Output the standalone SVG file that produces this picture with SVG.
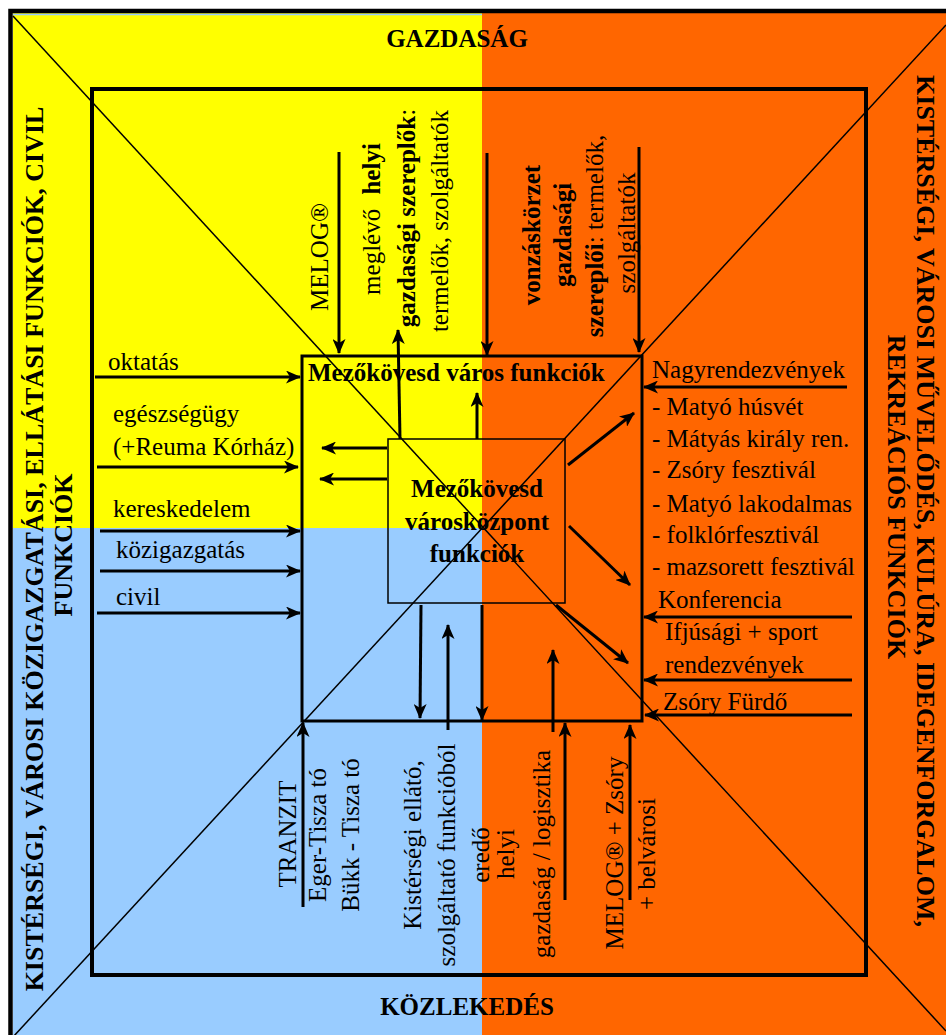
<svg xmlns="http://www.w3.org/2000/svg" width="946" height="1035" viewBox="0 0 946 1035">
<style>
.t{font-family:"Liberation Serif","Times New Roman",serif;font-size:25px;fill:#000}
.b{font-weight:bold}
.tt{font-family:"Liberation Serif","Times New Roman",serif;font-size:26px;font-weight:bold;fill:#000}
.a{stroke:#000;stroke-width:3;fill:none;marker-end:url(#ah)}
.d{stroke:#000;stroke-width:1.5;fill:none}
</style>
<defs>
<marker id="ah" markerUnits="userSpaceOnUse" markerWidth="15" markerHeight="13" refX="14" refY="6.5" orient="auto">
<path d="M0,0 L15,6.5 L0,13 L4,6.5 z" fill="#000"/>
</marker>
</defs>
<rect x="0" y="0" width="946" height="1035" fill="#fff"/>
<g id="background">
<rect x="13" y="13" width="469" height="515" fill="#ffff00"/>
<rect x="13" y="528" width="469" height="507" fill="#99ccff"/>
<rect x="482" y="13" width="464" height="1022" fill="#ff6600"/>
<line x1="13" y1="14.5" x2="482" y2="14.5" stroke="#99ccff" stroke-width="1.5"/>
<path d="M10.5,1035 V11 H946" stroke="#000" stroke-width="4.5" fill="none"/>
<line class="d" x1="13" y1="16" x2="946" y2="1031"/>
<line class="d" x1="946" y1="25" x2="13" y2="1037"/>
<rect x="92" y="89" width="774" height="886" fill="none" stroke="#000" stroke-width="4"/>
</g>
<g id="titles">
<text class="t b" x="457" y="47" text-anchor="middle">GAZDASÁG</text>
<text class="t b" x="467" y="1015" text-anchor="middle">KÖZLEKEDÉS</text>
<text class="tt" transform="translate(43,549) rotate(-90)" text-anchor="middle">KISTÉRSÉGI, VÁROSI KÖZIGAZGATÁSI, ELLÁTÁSI FUNKCIÓK, CIVIL</text>
<text class="tt" transform="translate(72,545) rotate(-90)" text-anchor="middle">FUNKCIÓK</text>
<text class="tt" transform="translate(917,501) rotate(90)" text-anchor="middle">KISTÉRSÉGI, VÁROSI MŰVELŐDÉS, KULÚRA, IDEGENFORGALOM,</text>
<text class="tt" transform="translate(888,497) rotate(90)" text-anchor="middle">REKREÁCIÓS FUNKCIÓK</text>
</g>
<g id="city-box">
<rect x="302" y="356" width="340" height="365" fill="none" stroke="#000" stroke-width="3"/>
<text class="t b" x="308" y="381">Mezőkövesd város funkciók</text>
</g>
<g id="center-box">
<rect x="388" y="439" width="177" height="164" fill="none" stroke="#000" stroke-width="1.5"/>
<text class="t b" x="477" y="497" text-anchor="middle">Mezőkövesd</text>
<text class="t b" x="477" y="530" text-anchor="middle">városközpont</text>
<text class="t b" x="477" y="562" text-anchor="middle">funkciók</text>
</g>
<g id="left-labels">
<text class="t" x="108" y="370">oktatás</text>
<text class="t" x="113" y="422">egészségügy</text>
<text class="t" x="113" y="455">(+Reuma Kórház)</text>
<text class="t" x="113" y="517">kereskedelem</text>
<text class="t" x="116" y="558">közigazgatás</text>
<text class="t" x="116" y="605">civil</text>
</g>
<g id="top-labels">
<text class="t" transform="translate(328,257) rotate(-90)" text-anchor="middle">MELOG®</text>
<text class="t" transform="translate(380,219) rotate(-90)" text-anchor="middle" word-spacing="8">meglévő <tspan class="b">helyi</tspan></text>
<text class="t" transform="translate(415,218) rotate(-90)" text-anchor="middle"><tspan class="b">gazdasági szereplők</tspan>:</text>
<text class="t" transform="translate(448,221) rotate(-90)" text-anchor="middle">termelők, szolgáltatók</text>
<text class="t b" transform="translate(540,235) rotate(-90)" text-anchor="middle">vonzáskörzet</text>
<text class="t b" transform="translate(571,235) rotate(-90)" text-anchor="middle">gazdasági</text>
<text class="t" transform="translate(603,236) rotate(-90)" text-anchor="middle"><tspan class="b">szereplői</tspan>: termelők,</text>
<text class="t" transform="translate(635,233) rotate(-90)" text-anchor="middle">szolgáltatók</text>
</g>
<g id="right-labels">
<text class="t" x="652" y="378">Nagyrendezvények</text>
<text class="t" x="652" y="415">- Matyó húsvét</text>
<text class="t" x="652" y="447">- Mátyás király ren.</text>
<text class="t" x="652" y="478">- Zsóry fesztivál</text>
<text class="t" x="652" y="512">- Matyó lakodalmas</text>
<text class="t" x="652" y="543">- folklórfesztivál</text>
<text class="t" x="652" y="575">- mazsorett fesztivál</text>
<text class="t" x="658" y="608">Konferencia</text>
<text class="t" x="665" y="640">Ifjúsági + sport</text>
<text class="t" x="665" y="673">rendezvények</text>
<text class="t" x="663" y="710">Zsóry Fürdő</text>
</g>
<g id="bottom-labels">
<text class="t" transform="translate(296,834) rotate(-90)" text-anchor="middle">TRANZIT</text>
<text class="t" transform="translate(326,835) rotate(-90)" text-anchor="middle">Eger-Tisza tó</text>
<text class="t" transform="translate(359,835) rotate(-90)" text-anchor="middle">Bükk - Tisza tó</text>
<text class="t" transform="translate(421,845) rotate(-90)" text-anchor="middle">Kistérségi ellátó,</text>
<text class="t" transform="translate(455,855) rotate(-90)" text-anchor="middle">szolgáltató funkcióból</text>
<text class="t" transform="translate(489,855) rotate(-90)" text-anchor="middle">eredő</text>
<text class="t" transform="translate(514,854) rotate(-90)" text-anchor="middle">helyi</text>
<text class="t" transform="translate(550,854) rotate(-90)" text-anchor="middle">gazdaság / logisztika</text>
<text class="t" transform="translate(623,853) rotate(-90)" text-anchor="middle">MELOG® + Zsóry</text>
<text class="t" transform="translate(655,854) rotate(-90)" text-anchor="middle">+ belvárosi</text>
</g>
<g id="connectors">
<line class="a" x1="95" y1="377" x2="300" y2="377"/>
<line class="a" x1="97" y1="467" x2="298" y2="467"/>
<line class="a" x1="100" y1="531" x2="300" y2="531"/>
<line class="a" x1="100" y1="571" x2="300" y2="571"/>
<line class="a" x1="97" y1="613" x2="300" y2="613"/>
<line class="a" x1="387" y1="448" x2="322" y2="448"/>
<line class="a" x1="387" y1="479" x2="320" y2="479"/>
<line class="a" x1="339" y1="152" x2="339" y2="353"/>
<line class="a" x1="400" y1="439" x2="398" y2="330"/>
<line class="a" x1="477" y1="439" x2="477" y2="393"/>
<line class="a" x1="487" y1="153" x2="487" y2="355"/>
<line class="a" x1="639" y1="147" x2="639" y2="352"/>
<line class="a" x1="847" y1="387" x2="644" y2="387"/>
<line class="a" x1="852" y1="617" x2="644" y2="617"/>
<line class="a" x1="852" y1="680" x2="644" y2="680"/>
<line class="a" x1="852" y1="715" x2="645" y2="715"/>
<line class="a" x1="568" y1="465" x2="634" y2="413"/>
<line class="a" x1="569" y1="526" x2="630" y2="585"/>
<line class="a" x1="556" y1="605" x2="628" y2="663"/>
<line class="a" x1="303" y1="907" x2="303" y2="723"/>
<line class="a" x1="421" y1="605" x2="420" y2="718"/>
<line class="a" x1="448" y1="730" x2="448" y2="625"/>
<line class="a" x1="482" y1="605" x2="482" y2="720"/>
<line class="a" x1="553" y1="732" x2="553" y2="650"/>
<line class="a" x1="565" y1="900" x2="565" y2="723"/>
<line class="a" x1="630" y1="900" x2="630" y2="725"/>
</g>
</svg>
